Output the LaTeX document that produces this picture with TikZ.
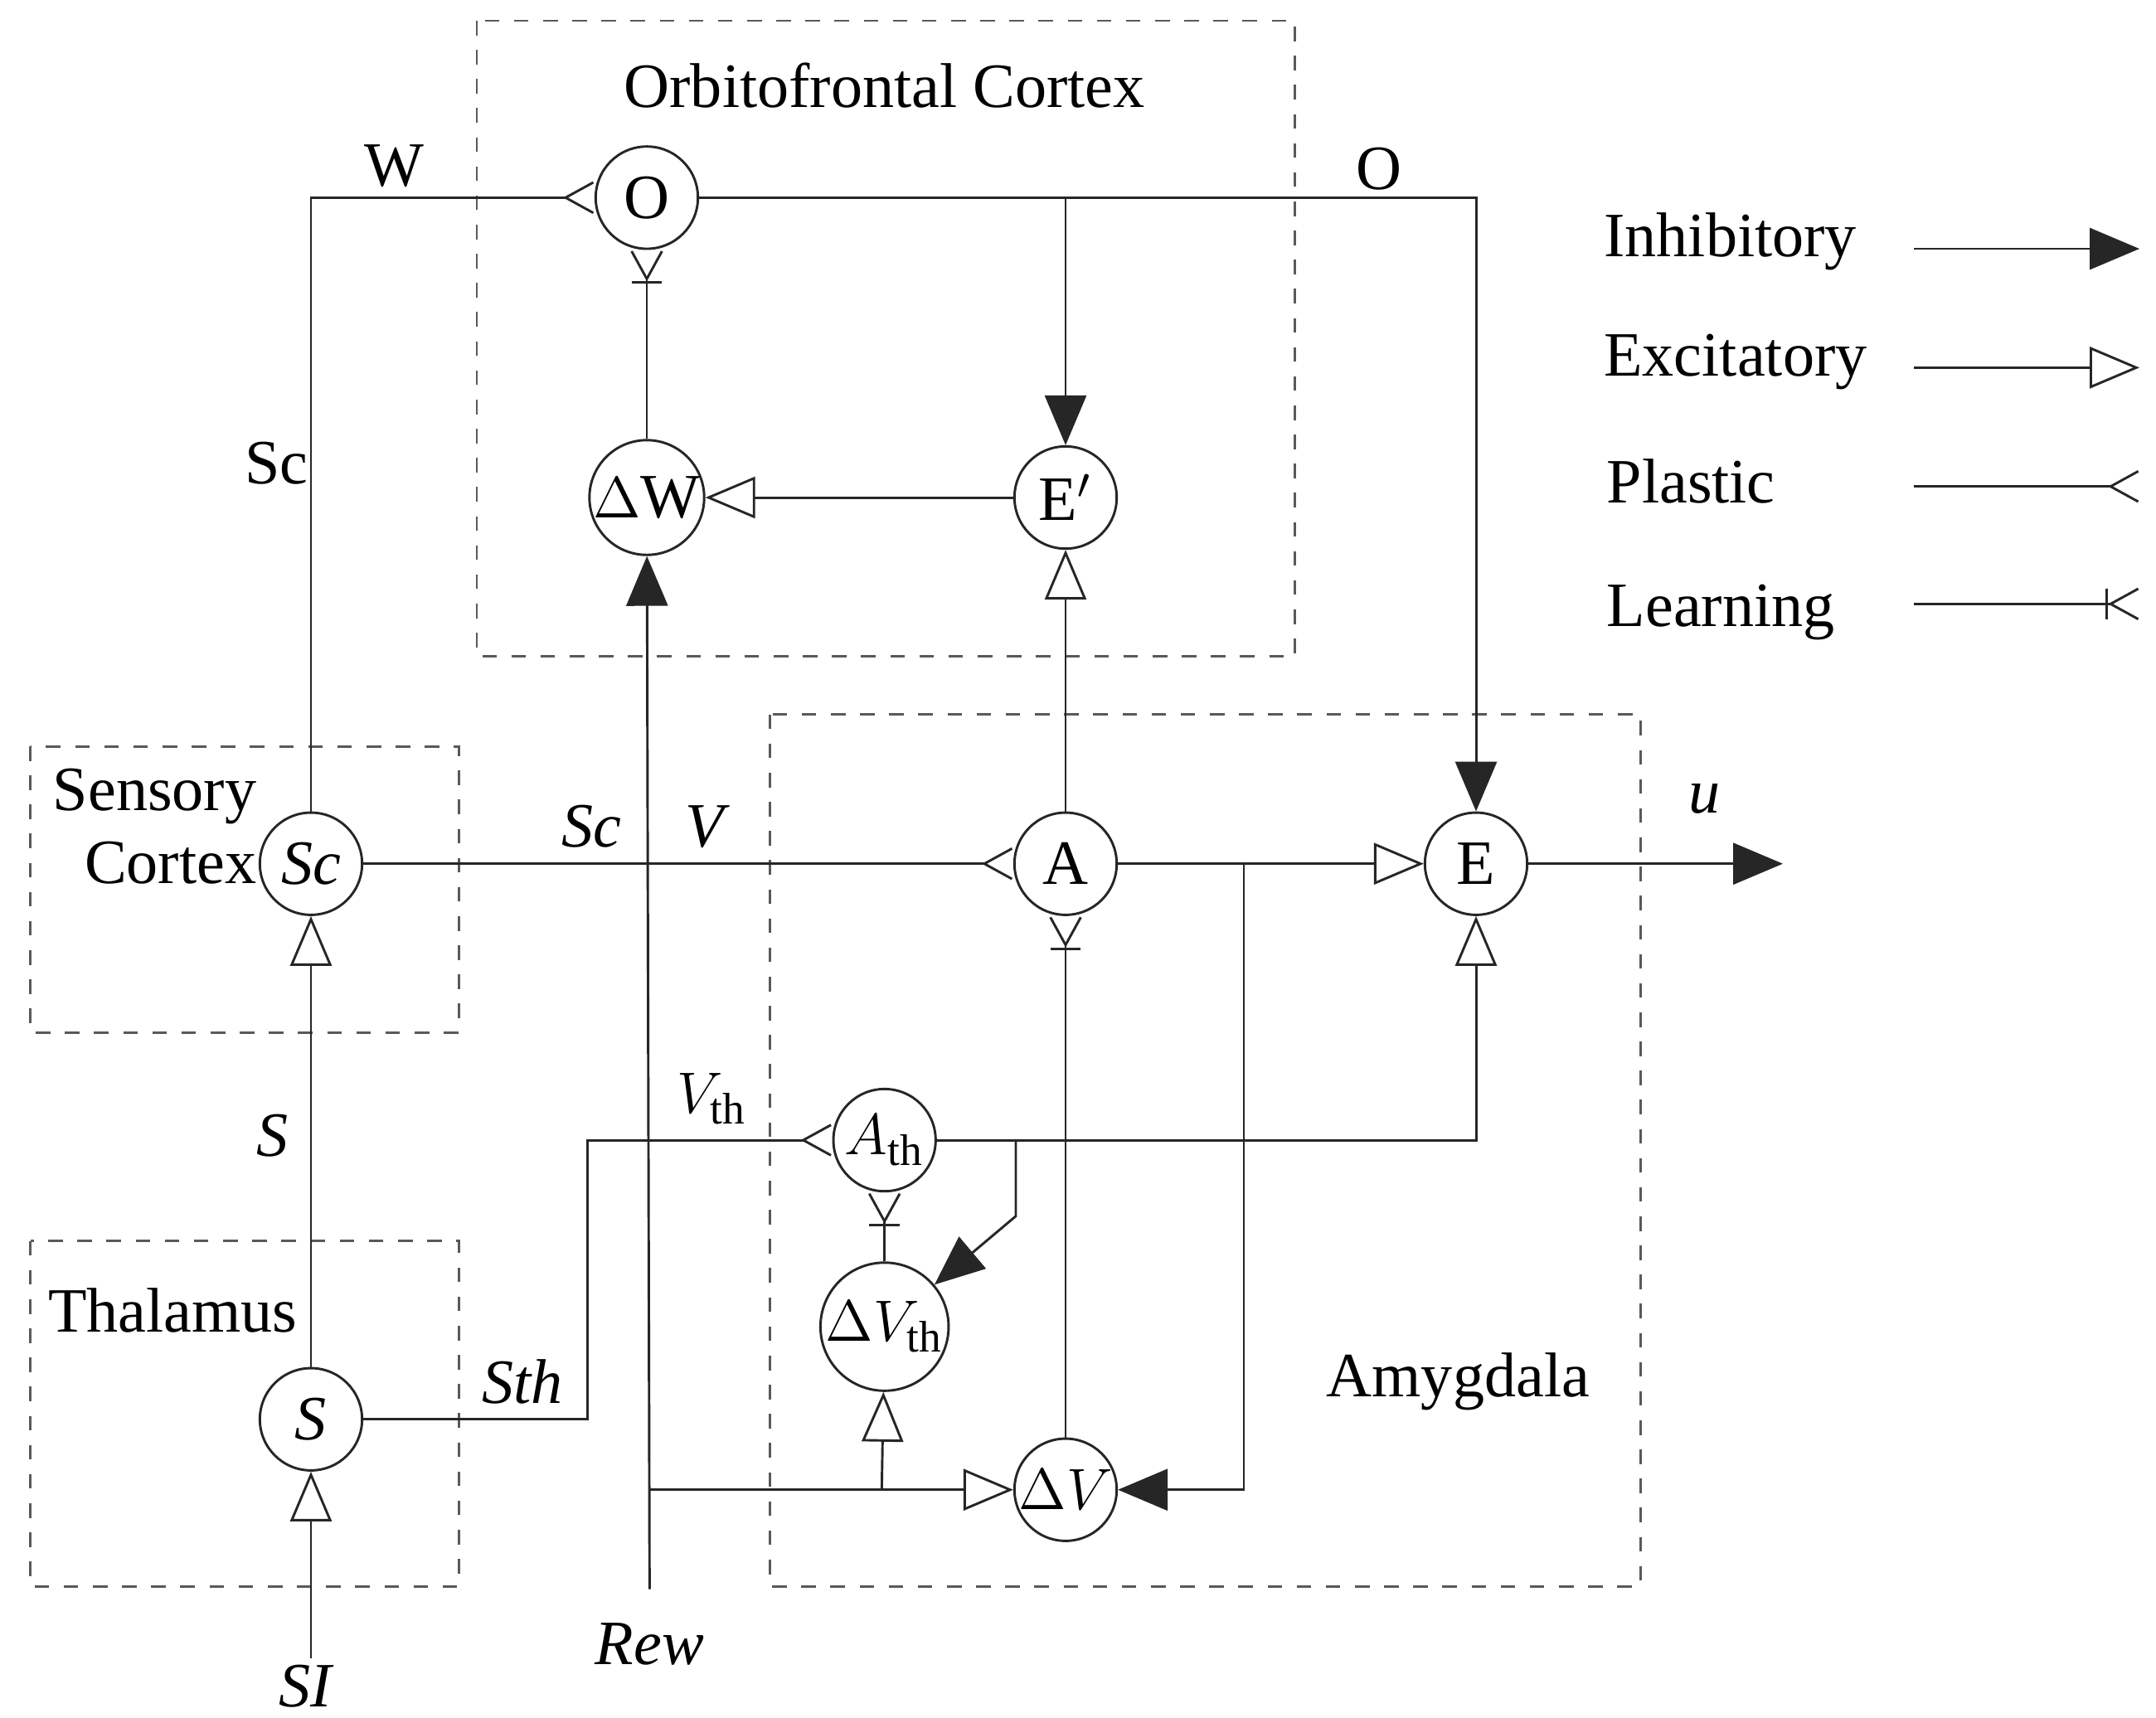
\documentclass[tikz,border=0pt]{standalone}
\usepackage{fontspec}
\setmainfont{Liberation Serif}
\usetikzlibrary{arrows.meta,positioning}
\tikzset{
	unit/.style={draw,circle,minimum size=0.74cm,inner sep=0pt,fill=white},
	box/.style={draw,dashed,gray!70!black},
	inh/.style={-{Triangle[length=0.36cm,width=0.3cm]}},
	exc/.style={-{Triangle[open,length=0.36cm,width=0.3cm]}},
	pla/.style={-{Straight Barb[reversed,length=0.2cm,width=0.22cm]}},
	lrn/.style={-{Bar[width=0.22cm]Straight Barb[reversed,length=0.2cm,width=0.22cm]}},
	lab/.style={font=\fontsize{13}{15}\selectfont}
}
\begin{document}
\begin{tikzpicture}[line width=0.5pt,gray!30!black,text=black,lab]
	\useasboundingbox (0,0) rectangle (15.6,-12.43);
	% boxes
	\draw[box] (3.45,-0.15) rectangle (9.37,-4.75);
	\draw[box] (0.22,-5.40) rectangle (3.32,-7.47);
	\draw[box] (0.22,-8.98) rectangle (3.32,-11.48);
	\draw[box] (5.57,-5.17) rectangle (11.87,-11.48);
	\node at (6.40,-0.62) {Orbitofrontal Cortex};
	\node[align=right] at (1.12,-5.98) {Sensory\\Cortex};
	\node at (1.25,-9.48) {Thalamus};
	\node at (10.55,-10.00) {Amygdala};
	% units
	\node[unit] (O) at (4.68,-1.43) {O};
	\node[unit] (dW) at (4.68,-3.60) {$\Delta$W};
	\node[unit] (Ep) at (7.71,-3.60) {E$'$};
	\node[unit] (Sc) at (2.25,-6.25) {\textit{Sc}};
	\node[unit] (A) at (7.71,-6.25) {A};
	\node[unit] (E) at (10.68,-6.25) {E};
	\node[unit] (Ath) at (6.40,-8.25) {$A_{\mathrm{th}}$};
	\node[unit] (dVth) at (6.40,-9.60) {$\Delta V_{\mathrm{th}}$};
	\node[unit] (S) at (2.25,-10.27) {\textit{S}};
	\node[unit] (dV) at (7.71,-10.78) {$\Delta V$};
	% free ends
	\coordinate (SI) at (2.25,-12.00);
	\coordinate (Rew) at (4.70,-11.50);
	\coordinate (u) at (12.90,-6.25);
	% connectors
	\draw[pla] (Sc) |- (O);
	\draw[inh] (O) -| (E);
	\draw[inh] (O -| Ep) -- (Ep);
	\draw[exc] (Ep) -- (dW);
	\draw[lrn] (dW) -- (O);
	\draw[inh] (Rew) -- (dW);
	\draw[exc] (A) -- (Ep);
	\draw[pla] (Sc) -- (A);
	\draw[exc] (A) -- (E);
	\draw[inh] (9.00,-6.25) |- (dV);
	\draw[lrn] (dV) -- (A);
	\draw[exc] (Ath) -| (E);
	\draw[inh] (7.35,-8.25) -- (7.35,-8.80) -- (dVth);
	\draw[lrn] (dVth) -- (Ath);
	\draw[exc] (SI) -- (S);
	\draw[exc] (S) -- (Sc);
	\draw[pla] (S) -- (4.25,-10.27) |- (Ath);
	\draw[exc] (4.70,-10.78) -- (dV);
	\draw[exc] (6.38,-10.78) -- (dVth);
	\draw[inh] (E) -- (u);
	% labels
	\node at (2.85,-1.20) {W};
	\node at (9.98,-1.22) {O};
	\node at (2.00,-3.35) {Sc};
	\node at (4.28,-5.98) {\textit{Sc}};
	\node at (5.12,-5.98) {\textit{V}};
	\node at (12.33,-5.78) {\textit{u}};
	\node at (5.15,-7.95) {$V_{\mathrm{th}}$};
	\node at (1.97,-8.22) {\textit{S}};
	\node at (3.78,-10.00) {\textit{Sth}};
	\node at (4.70,-11.90) {\textit{Rew}};
	\node at (2.22,-12.20) {\textit{SI}};
	% legend
	\node[anchor=west] (l1) at (11.48,-1.75) {Inhibitory};
	\node[anchor=west] (l2) at (11.48,-2.62) {Excitatory};
	\node[anchor=west] (l3) at (11.50,-3.48) {Plastic};
	\node[anchor=west] (l4) at (11.50,-4.43) {Learning};
	\draw[inh] (13.85,-1.80) -- (15.48,-1.80);
	\draw[exc] (13.85,-2.66) -- (15.48,-2.66);
	\draw[pla] (13.85,-3.52) -- (15.48,-3.52);
	\draw[lrn] (13.85,-4.37) -- (15.48,-4.37);
\end{tikzpicture}
\end{document}
